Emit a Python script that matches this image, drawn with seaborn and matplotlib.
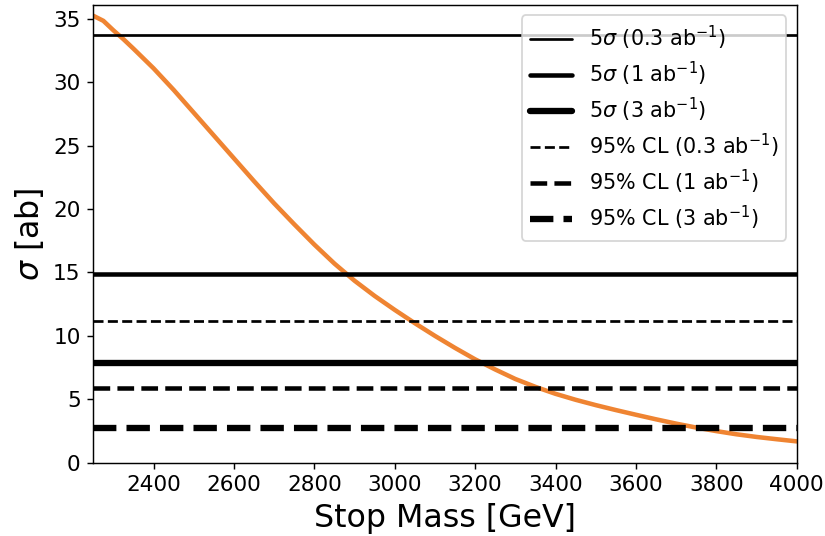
import numpy as np
import pandas as pd
import matplotlib
matplotlib.use("Agg")
import matplotlib.pyplot as plt
import seaborn as sns

# stop mass [GeV] and cross section [ab]
stop_mass = [2250, 2275, 2300, 2325, 2350, 2400, 2450, 2500, 2550, 2600,
             2650, 2700, 2750, 2800, 2850, 2900, 2950, 3000, 3050, 3100,
             3150, 3200, 3250, 3300, 3350, 3400, 3450, 3500, 3550, 3600,
             3650, 3700, 3750, 3800, 3850, 3900, 3950, 4000]
xsec = [35.25, 34.85, 34.1, 33.4, 32.65, 31.1, 29.4, 27.6, 25.8, 24.0,
        22.2, 20.45, 18.8, 17.2, 15.7, 14.35, 13.15, 12.05, 11.0, 10.0,
        9.05, 8.15, 7.35, 6.6, 5.98, 5.43, 4.96, 4.54, 4.15, 3.78,
        3.42, 3.08, 2.77, 2.49, 2.24, 2.03, 1.85, 1.68]

# discovery / exclusion reach
disc_vals = [33.7, 14.9, 7.9]
excl_vals = [11.2, 5.9, 2.7]
lumi_labels = ["0.3", "1", "3"]

data = pd.DataFrame({"mass": stop_mass, "xsec": xsec})

sns.set_style("ticks")
plt.rcParams["xtick.color"] = "black"
plt.rcParams["ytick.color"] = "black"
plt.rcParams["axes.edgecolor"] = "black"
plt.rcParams["axes.labelcolor"] = "black"
plt.rcParams["text.color"] = "black"

fig = plt.figure(figsize=(825 / 130, 536 / 130), dpi=130)
ax = fig.add_axes([0.1131, 0.1368, 0.8526, 0.8539])

sns.lineplot(data=data, x="mass", y="xsec", color="#ef8432", lw=2.5, ax=ax)

widths = [1.5, 2.5, 3.5]
for v, lw, lab in zip(disc_vals, widths, lumi_labels):
    ax.axhline(v, color="black", lw=lw, ls="-",
               label=r"5$\sigma$ (" + lab + r" ab$^{-1}$)")
for v, lw, lab in zip(excl_vals, widths, lumi_labels):
    ax.axhline(v, color="black", lw=lw, ls="--",
               label="95% CL (" + lab + r" ab$^{-1}$)")

ax.set_xlim(2250, 4000)
ax.set_ylim(0, 36.1)
ax.set_xlabel("Stop Mass [GeV]", fontsize=17.5)
ax.set_ylabel(r"$\sigma$ [ab]", fontsize=17.5)
ax.tick_params(labelsize=12)
ax.legend(loc="upper right", fontsize=11.5, labelspacing=0.38)

fig.savefig("out.png", dpi=130)
